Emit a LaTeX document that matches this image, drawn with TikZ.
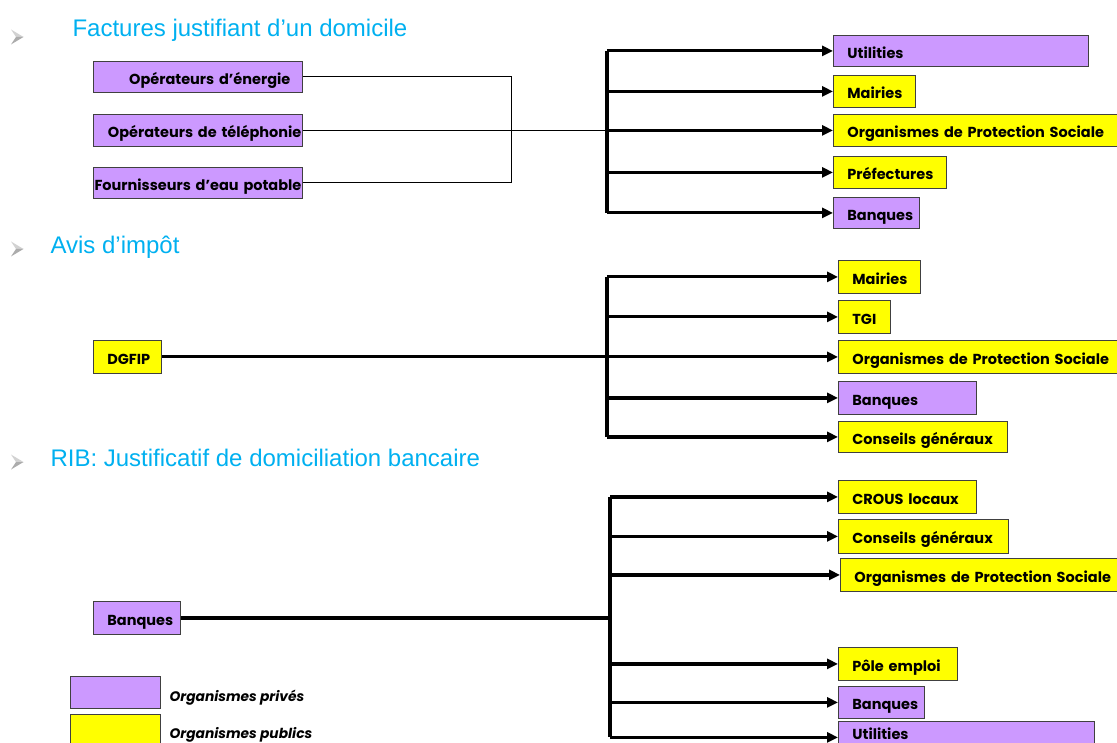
\documentclass[tikz,border=0pt]{standalone}
\usepackage{fontspec}
\setmainfont{Liberation Sans}
\newfontfamily\bxfont{Poppins}
\usetikzlibrary{arrows.meta}
\definecolor{priv}{RGB}{204,153,255}
\definecolor{pub}{RGB}{255,255,0}
\definecolor{hdr}{RGB}{0,176,240}
\begin{document}
\begin{tikzpicture}[x=1pt,y=-1pt,
  box/.style={draw=black!75, line width=0.8pt, anchor=north west, inner ysep=0pt,
    text height=15pt, text depth=0pt, font=\bxfont\bfseries\fontsize{14.5}{15}\selectfont},
  rbox/.style={box, inner xsep=14pt, align=left},
  lbox/.style={box, align=right},
  privbox/.style={fill=priv},
  pubbox/.style={fill=pub},
  thinln/.style={line width=0.9pt, black},
  thk/.style={line width=3.2pt, black},
  arr/.style={thk, -{Triangle[length=11pt,width=10pt]}},
  head/.style={anchor=base west, text=hdr, font=\fontsize{24}{28}\selectfont},
  legtext/.style={anchor=base west, font=\bxfont\bfseries\itshape\fontsize{13.8}{15}\selectfont},
]
\useasboundingbox (0,0) rectangle (1117,743);
\begin{scope}
\clip (0,0) rectangle (1117,743);

% ---------- bullets and headers
\foreach \yy in {37,249,462} {
  \fill[gray!35] (11,\yy-7.5) -- (23.5,\yy) -- (16,\yy) -- cycle;
  \fill[gray!65] (16,\yy) -- (23.5,\yy) -- (11,\yy+7.5) -- cycle;
}
\node[head] (h1) at (69,36.5) {Factures justifiant d’un domicile};
\node[head] (h2) at (47,253.5) {Avis d’impôt};
\node[head] (h3) at (47,466.5) {RIB: Justificatif de domiciliation bancaire};

% ---------- section 1
\node[lbox, privbox, inner xsep=12pt, text width=185pt, minimum height=31pt] (e1) at (93,61) {Opérateurs d’énergie};
\node[lbox, privbox, inner xsep=1pt, text width=207pt, minimum height=32pt] (t1) at (93,114) {Opérateurs de téléphonie};
\node[lbox, privbox, inner xsep=1pt, text width=207pt, minimum height=31pt] (f1) at (93,167) {Fournisseurs d’eau potable};
\coordinate (brk) at (511,0);
\coordinate (s1) at (607,0);

\node[rbox, privbox, text width=227pt, minimum height=31pt] (u1) at (833,35) {Utilities};
\node[rbox, pubbox, text width=54pt, minimum height=32pt] (m1) at (833,75) {Mairies};
\node[rbox, pubbox, text width=275pt, minimum height=32pt] (o1) at (833,114) {Organismes de Protection Sociale};
\node[rbox, pubbox, text width=85pt, minimum height=32pt] (p1) at (833,156) {Préfectures};
\node[rbox, privbox, text width=58pt, minimum height=31pt] (b1) at (833,197) {Banques};

\draw[thinln] (e1.east) -- (e1.east -| brk) |- (f1.east);
\draw[thinln] (t1.east) -- (t1.east -| s1);
\draw[thk] (u1.west -| s1) -- (b1.west -| s1);
\foreach \n in {u1,m1,o1,p1,b1} \draw[arr] (\n.west -| s1) -- (\n.west);

% ---------- section 2
\node[rbox, pubbox, text width=40pt, minimum height=33pt] (d2) at (93,340) {DGFIP};
\coordinate (s2) at (607,0);
\node[rbox, pubbox, text width=54pt, minimum height=33pt] (m2) at (838,260) {Mairies};
\node[rbox, pubbox, text width=24pt, minimum height=33pt] (tg) at (838,300) {TGI};
\node[rbox, pubbox, text width=280pt, minimum height=33pt] (o2) at (838,340) {Organismes de Protection Sociale};
\node[rbox, privbox, text width=110pt, minimum height=33pt] (b2) at (838,381) {Banques};
\node[rbox, pubbox, text width=141pt, minimum height=31pt] (c2) at (838,421) {Conseils généraux};

\draw[thk] (d2.east) -- (d2.east -| s2);
\draw[thk] (m2.west -| s2) -- (c2.west -| s2);
\foreach \n in {m2,tg,o2,b2,c2} \draw[arr] (\n.west -| s2) -- (\n.west);

% ---------- section 3
\node[rbox, privbox, text width=59pt, minimum height=33pt] (bl) at (93,601) {Banques};
\coordinate (s3) at (610,0);
\node[rbox, pubbox, text width=110pt, minimum height=33pt] (cr) at (838,480) {CROUS locaux};
\node[rbox, pubbox, text width=142pt, minimum height=34pt] (c3) at (838,519) {Conseils généraux};
\node[rbox, pubbox, text width=280pt, minimum height=33pt] (o3) at (840,558) {Organismes de Protection Sociale};
\node[rbox, pubbox, text width=91pt, minimum height=33pt] (pe) at (838,647) {Pôle emploi};
\node[rbox, privbox, text width=58pt, minimum height=32pt] (b3) at (838,686) {Banques};
\node[rbox, privbox, text width=228pt, minimum height=32pt, text height=4pt] (u3) at (838,721) {Utilities};

\draw[thk] (bl.east) -- (bl.east -| s3);
\draw[thk] (cr.west -| s3) -- (u3.west -| s3);
\foreach \n in {cr,c3,o3,pe,b3,u3} \draw[arr] (\n.west -| s3) -- (\n.west);

% ---------- legend
\node[box, privbox, minimum width=90pt, minimum height=32pt] (lp) at (70,676) {};
\node[box, pubbox, minimum width=90pt, minimum height=36pt] (ly) at (70,714) {};
\node[legtext] (lpt) at (166,701) {Organismes privés};
\node[legtext] (lyt) at (166,738.5) {Organismes publics};
\end{scope}
\end{tikzpicture}
\end{document}
